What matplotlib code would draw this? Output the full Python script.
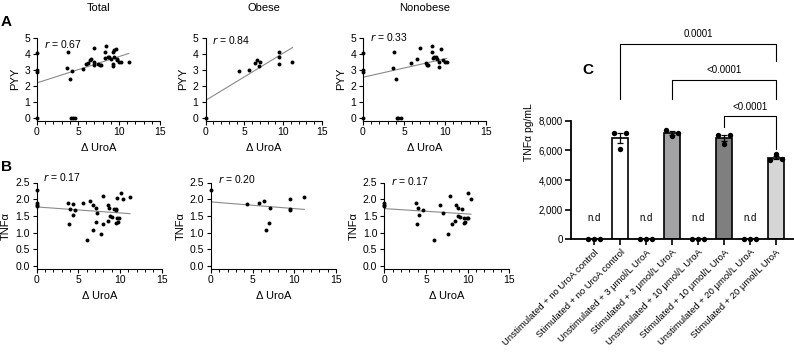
import numpy as np
import matplotlib
matplotlib.use('Agg')
import matplotlib.pyplot as plt
from matplotlib.ticker import MultipleLocator

plt.rcParams['font.family'] = ['Liberation Sans', 'DejaVu Sans']

# ---- panel A / B data (delta UroA vs PYY / TNFa) ----
total_pyy_x = [0, 0, 0, 0, 3.8, 3.7, 4.0, 4.3, 4.1, 4.4, 4.6, 5.6, 6.0, 6.2, 6.5, 6.6, 7.0, 6.9, 7.0,
               7.5, 7.7, 7.8, 8.4, 8.3, 8.3, 8.6, 8.8, 9.0, 9.3, 9.4, 9.6, 9.3, 9.3, 9.4, 9.7, 9.8,
               10.0, 10.2, 11.2]
total_pyy_y = [4.05, 3.0, 2.9, 0, 4.15, 3.15, 2.45, 2.95, 0, 0, 0, 3.05, 3.4, 3.45, 3.65, 3.7, 4.4, 3.3,
               3.48, 3.4, 3.3, 3.3, 4.5, 4.1, 3.75, 3.8, 3.8, 3.7, 4.1, 4.25, 4.3, 3.4, 3.25, 3.8, 3.7,
               3.6, 3.5, 3.5, 3.5]
obese_pyy_x = [0, 4.3, 5.6, 6.4, 6.6, 7.0, 6.95, 9.5, 9.5, 9.5, 11.2]
obese_pyy_y = [0, 2.95, 3.0, 3.45, 3.65, 3.5, 3.25, 4.15, 3.8, 3.35, 3.5]
nonob_pyy_x = [0, 0, 0, 0, 3.8, 3.7, 4.0, 4.1, 4.3, 4.6, 5.9, 6.6, 6.9, 7.7, 7.8, 7.9, 8.4, 8.4,
               8.5, 8.7, 8.9, 9.0, 9.5, 9.3, 9.3, 9.8, 10.0, 10.2]
nonob_pyy_y = [4.05, 3.0, 2.9, 0, 4.15, 3.15, 2.45, 0, 0, 0, 3.45, 3.7, 4.4, 3.45, 3.3, 3.3, 4.5, 4.1,
               3.75, 3.8, 3.8, 3.7, 4.3, 3.48, 3.2, 3.65, 3.5, 3.5]

total_tnf_x = [0, 0, 0, 0, 3.8, 4.0, 4.3, 4.3, 4.6, 3.9, 5.6, 6.45, 6.7, 7.1, 7.2, 7.1, 6.7, 6.0, 7.7,
               7.9, 8.0, 8.5, 8.5, 8.7, 8.8, 9.0, 9.3, 9.5, 9.5, 9.6, 9.6, 9.5, 9.7, 9.9, 10.1, 10.4, 11.2]
total_tnf_y = [2.27, 1.88, 1.84, 1.8, 1.9, 1.72, 1.85, 1.52, 1.67, 1.25, 1.9, 1.95, 1.82, 1.75, 1.6,
               1.31, 1.09, 0.77, 0.97, 2.1, 1.25, 1.35, 1.83, 1.75, 1.5, 1.47, 1.72, 1.72, 1.68, 2.03,
               1.45, 1.28, 1.33, 1.45, 2.18, 2.0, 2.08]
obese_tnf_x = [0, 4.3, 5.7, 6.4, 7.1, 7.0, 6.6, 9.5, 9.5, 9.5, 11.2]
obese_tnf_y = [2.27, 1.85, 1.88, 1.94, 1.73, 1.3, 1.08, 2.02, 1.72, 1.68, 2.08]
nonob_tnf_x = [0, 0, 0, 3.8, 4.1, 4.6, 4.2, 3.9, 6.0, 6.7, 7.1, 7.7, 7.9, 8.1, 8.6, 8.8, 8.5, 8.9,
               9.1, 9.3, 9.6, 9.9, 10.0, 9.6, 9.7, 10.1, 10.4]
nonob_tnf_y = [1.88, 1.84, 1.8, 1.9, 1.73, 1.67, 1.54, 1.25, 0.77, 1.82, 1.6, 0.97, 2.1, 1.27, 1.83,
               1.74, 1.35, 1.5, 1.48, 1.72, 1.45, 1.45, 1.45, 1.3, 1.33, 2.18, 2.0]

# fitted lines (intercept, slope) and r values
fits_pyy = [(2.2, 0.164), (1.1, 0.295), (2.55, 0.115)]
fits_tnf = [(1.77, -0.018), (1.92, -0.02), (1.72, -0.016)]
r_pyy = ['0.67', '0.84', '0.33']
r_tnf = ['0.17', '0.20', '0.17']
r_pos_pyy = [4.6, 4.85, 5.05]
r_pos_tnf = [2.65, 2.6, 2.55]
titles = ['Total', 'Obese', 'Nonobese']

# ---- panel C data ----
conditions = ['Unstimulated + no UroA control', 'Stimulated + no UroA control',
              'Unstimulated + 3 μmol/L UroA', 'Stimulated + 3 μmol/L UroA',
              'Unstimulated + 10 μmol/L UroA', 'Stimulated + 10 μmol/L UroA',
              'Unstimulated + 20 μmol/L UroA', 'Stimulated + 20 μmol/L UroA']
replicates = [[0, 0, 0], [7200, 6100, 7200], [0, 0, 0], [7380, 7000, 7160],
              [0, 0, 0], [7050, 6440, 7050], [0, 0, 0], [5380, 5750, 5400]]
bar_colors = ['white', 'white', 'white', '#a3a3a5', 'white', '#7f7f7f', 'white', '#d6d6d6']
brackets = [(1, 7, 13200, 9450, 12000, '0.0001'),
            (3, 7, 10750, 9450, 9450, '<0.0001'),
            (5, 7, 8300, 7550, 6100, '<0.0001')]

W, H = 794, 354
fig = plt.figure(figsize=(W / 100, H / 100), dpi=100)


def px_axes(x0, x1, ytop, ybot):
    return fig.add_axes([x0 / W, 1 - ybot / H, (x1 - x0) / W, (ybot - ytop) / H])


def style_scatter(ax):
    for s in ['top', 'right']:
        ax.spines[s].set_visible(False)
    for s in ['left', 'bottom']:
        ax.spines[s].set_linewidth(0.8)
    ax.tick_params(length=3, width=0.8, labelsize=7.5, pad=2)
    ax.tick_params(which='minor', length=1.8, width=0.7)
    ax.set_xlim(0, 15)
    ax.xaxis.set_major_locator(MultipleLocator(5))
    ax.xaxis.set_minor_locator(MultipleLocator(1))


# row A
a_x = [(37, 160), (205.5, 322), (363, 486)]
pyy_data = [(total_pyy_x, total_pyy_y), (obese_pyy_x, obese_pyy_y), (nonob_pyy_x, nonob_pyy_y)]
for k in range(3):
    ax = px_axes(a_x[k][0], a_x[k][1], 38, 120.5)
    xs, ys = pyy_data[k]
    ax.scatter(xs, ys, s=8, color='black', zorder=3, clip_on=False, linewidths=0)
    b0, b1 = fits_pyy[k]
    lx = np.array([0, max(xs)])
    ax.plot(lx, b0 + b1 * lx, color='#8a8a8a', lw=0.8)
    ax.set_ylim(-0.15, 5)
    ax.set_yticks([0, 1, 2, 3, 4, 5])
    style_scatter(ax)
    ax.set_ylabel('PYY', fontsize=8, labelpad=3)
    ax.set_xlabel('Δ UroA', fontsize=8, labelpad=4)
    ax.text(0.8, r_pos_pyy[k], r'$r$ = ' + r_pyy[k], fontsize=7.5, va='center')
    ax.set_title(titles[k], fontsize=8, pad=0, y=1 + 27 / 82.5)

# row B
b_x = [(36.7, 161.7), (211, 336), (384.3, 509.3)]
tnf_data = [(total_tnf_x, total_tnf_y), (obese_tnf_x, obese_tnf_y), (nonob_tnf_x, nonob_tnf_y)]
for k in range(3):
    ax = px_axes(b_x[k][0], b_x[k][1], 182.5, 268.5)
    xs, ys = tnf_data[k]
    ax.scatter(xs, ys, s=8, color='black', zorder=3, clip_on=False, linewidths=0)
    b0, b1 = fits_tnf[k]
    lx = np.array([0, max(xs)])
    ax.plot(lx, b0 + b1 * lx, color='#8a8a8a', lw=0.8)
    ax.set_ylim(-0.07, 2.5)
    ax.set_yticks([0, 0.5, 1.0, 1.5, 2.0, 2.5])
    ax.set_yticklabels(['0.0', '0.5', '1.0', '1.5', '2.0', '2.5'])
    style_scatter(ax)
    ax.set_ylabel('TNFα', fontsize=8, labelpad=3)
    ax.set_xlabel('Δ UroA', fontsize=8, labelpad=4)
    ax.text(0.8, r_pos_tnf[k], r'$r$ = ' + r_tnf[k], fontsize=7.5, va='center')

fig.text(6 / W, 1 - 22 / H, 'A', fontsize=11, fontweight='bold', ha='center', va='center')
fig.text(7 / W, 1 - 167 / H, 'B', fontsize=11, fontweight='bold', ha='center', va='center')
fig.text(588 / W, 1 - 70 / H, 'C', fontsize=11, fontweight='bold', ha='center', va='center')

# panel C
axc = px_axes(571, 794, 239.3 - 14.5 * 14.82, 239.3)
pos = np.arange(len(conditions))
means = [np.mean(r) for r in replicates]
axc.bar(pos, means, width=0.62, color=bar_colors, edgecolor='black', linewidth=1.2, zorder=2)
offsets = [-0.23, 0.0, 0.23]
for i, reps in enumerate(replicates):
    if means[i] > 0:
        sem = np.std(reps, ddof=1) / np.sqrt(len(reps))
        axc.errorbar(pos[i], means[i], yerr=sem, color='black', capsize=2.5, lw=0.9,
                     capthick=0.9, zorder=3)
    else:
        axc.text(pos[i], 1450, 'n.d', ha='center', va='center', fontsize=7)
    axc.scatter(pos[i] + np.array(offsets), reps, s=15, color='black', zorder=4,
                clip_on=False, linewidths=0)

for i, j, top, dl, dr, lab in brackets:
    axc.plot([i, i, j, j], [dl, top, top, dr], color='black', lw=0.8)
    axc.text((i + j) / 2, top + 650, lab, ha='center', va='center', fontsize=7)

axc.set_xlim(-0.9, 7.7)
axc.set_ylim(0, 14500)
axc.set_yticks([0, 2000, 4000, 6000, 8000])
axc.set_yticklabels(['0', '2,000', '4,000', '6,000', '8,000'])
axc.spines['left'].set_bounds(0, 8000)
for s in ['top', 'right']:
    axc.spines[s].set_visible(False)
for s in ['left', 'bottom']:
    axc.spines[s].set_linewidth(1.3)
axc.tick_params(axis='y', length=4, width=1.2, labelsize=7, pad=2)
axc.tick_params(axis='x', length=4, width=1.2, labelsize=6.8, pad=2)
axc.set_xticks(pos)
axc.set_xticklabels(conditions, rotation=45, ha='right', rotation_mode='anchor')
axc.set_ylabel('TNFα pg/mL', fontsize=7.5, labelpad=3)

fig.savefig('out.png', dpi=100)
